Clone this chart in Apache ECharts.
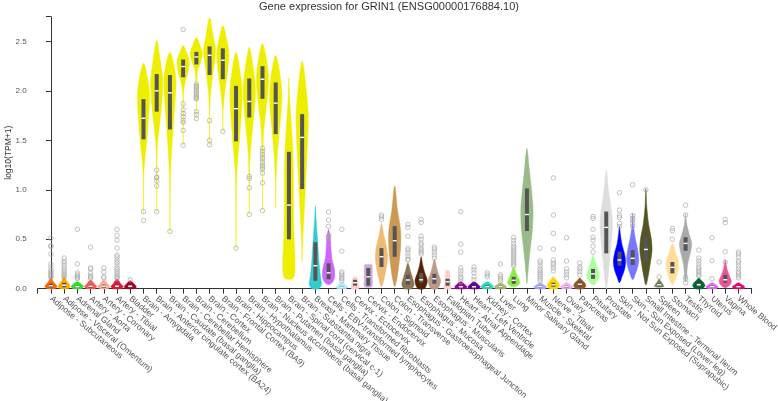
<!DOCTYPE html>
<html><head><meta charset="utf-8">
<script src="https://cdn.jsdelivr.net/npm/echarts@6/dist/echarts.min.js"></script>
<style>html,body{margin:0;padding:0;background:#fff}#c{width:778px;height:401px}</style>
</head><body><div id="c"></div><script>
const title = 'Gene expression for GRIN1 (ENSG00000176884.10)';
const yName = 'log10(TPM+1)';
const tissues = ['Adipose - Subcutaneous','Adipose - Visceral (Omentum)','Adrenal Gland','Artery - Aorta','Artery - Coronary','Artery - Tibial','Bladder','Brain - Amygdala','Brain - Anterior cingulate cortex (BA24)','Brain - Caudate (basal ganglia)','Brain - Cerebellar Hemisphere','Brain - Cerebellum','Brain - Cortex','Brain - Frontal Cortex (BA9)','Brain - Hippocampus','Brain - Hypothalamus','Brain - Nucleus accumbens (basal ganglia)','Brain - Putamen (basal ganglia)','Brain - Spinal cord (cervical c-1)','Brain - Substantia nigra','Breast - Mammary Tissue','Cells - EBV-transformed lymphocytes','Cells - Transformed fibroblasts','Cervix - Ectocervix','Cervix - Endocervix','Colon - Sigmoid','Colon - Transverse','Esophagus - Gastroesophageal Junction','Esophagus - Mucosa','Esophagus - Muscularis','Fallopian Tube','Heart - Atrial Appendage','Heart - Left Ventricle','Kidney - Cortex','Liver','Lung','Minor Salivary Gland','Muscle - Skeletal','Nerve - Tibial','Ovary','Pancreas','Pituitary','Prostate','Skin - Not Sun Exposed (Suprapubic)','Skin - Sun Exposed (Lower leg)','Small Intestine - Terminal Ileum','Spleen','Stomach','Testis','Thyroid','Uterus','Vagina','Whole Blood'];
const colors = ['#FF6600','#FFAA00','#33DD33','#FF5555','#FFAA99','#EE1133','#AA0022','#EEEE00','#EEEE00','#EEEE00','#EEEE00','#EEEE00','#EEEE00','#EEEE00','#EEEE00','#EEEE00','#EEEE00','#EEEE00','#EEEE00','#EEEE00','#33CCCC','#CC66FF','#AAEEFF','#FFCCCC','#CCAADD','#EEBB77','#CC9955','#8B7355','#552200','#BB9988','#FFCCCC','#990099','#660099','#22DDBB','#AABB66','#88EE44','#99BB88','#AAAAFF','#FFD700','#FFAAFF','#995522','#AAFF99','#DDDDDD','#0000FF','#7777FF','#555522','#778855','#FFDD99','#AAAAAA','#006633','#DD66EE','#EE5599','#EE0077'];
const q1 = [0.012,0.015,0.01,0.01,0.01,0.01,0.01,1.51,1.79,1.61,2.138,2.267,2.16,2.118,1.49,1.731,1.92,1.563,0.499,1.007,0.08,0.095,0.005,0.03,0.03,0.22,0.323,0.04,0.06,0.05,0.03,0.005,0.005,0.005,0.005,0.05,0.583,0.005,0.02,0.005,0.02,0.1,0.357,0.232,0.24,0.27,0.025,0.155,0.384,0.02,0.005,0.06,0.005];
const med = [0.03,0.035,0.02,0.025,0.025,0.025,0.025,1.724,2.0,1.98,2.246,2.343,2.36,2.31,1.82,1.893,2.118,1.876,0.845,1.53,0.232,0.16,0.015,0.06,0.12,0.323,0.485,0.088,0.09,0.1,0.07,0.02,0.02,0.02,0.02,0.085,0.75,0.02,0.04,0.02,0.045,0.15,0.62,0.29,0.307,0.397,0.04,0.216,0.458,0.04,0.02,0.09,0.02];
const q3 = [0.05,0.06,0.03,0.04,0.04,0.045,0.04,1.916,2.17,2.16,2.317,2.394,2.45,2.43,2.05,2.125,2.25,2.085,1.384,1.765,0.47,0.256,0.025,0.09,0.21,0.41,0.633,0.14,0.16,0.15,0.1,0.03,0.03,0.035,0.03,0.12,1.014,0.03,0.06,0.03,0.07,0.2,0.78,0.374,0.39,0.525,0.055,0.27,0.52,0.06,0.03,0.14,0.03];
// violin density profiles: [value, relative half-width]
const profiles = [
[[0,0.55],[0.02,1],[0.04,0.85],[0.07,0.4],[0.12,0]],
[[0,0.55],[0.02,1],[0.05,0.8],[0.08,0.4],[0.13,0]],
[[0,0.7],[0.02,1],[0.04,0.8],[0.07,0]],
[[0,0.6],[0.02,1],[0.05,0.6],[0.09,0]],
[[0,0.6],[0.02,1],[0.05,0.6],[0.09,0]],
[[0,0.6],[0.02,1],[0.05,0.6],[0.1,0]],
[[0,0.7],[0.02,1],[0.05,0.6],[0.08,0]],
[[0.76,0],[1.0,0.03],[1.2,0.08],[1.35,0.3],[1.5,0.55],[1.7,0.8],[1.95,1],[2.1,0.75],[2.28,0]],
[[0.78,0],[1.2,0.04],[1.45,0.12],[1.65,0.45],[1.85,0.8],[2.1,1],[2.3,0.6],[2.51,0]],
[[0.58,0],[1.0,0.05],[1.3,0.18],[1.6,0.5],[1.9,0.85],[2.1,1],[2.25,0.7],[2.39,0]],
[[1.45,0],[1.9,0.03],[2.05,0.2],[2.2,0.85],[2.3,1],[2.38,0.6],[2.46,0]],
[[1.72,0],[2.0,0.03],[2.2,0.2],[2.3,0.75],[2.38,1],[2.46,0.6],[2.54,0]],
[[1.45,0],[1.8,0.04],[2.0,0.2],[2.2,0.6],[2.4,1],[2.55,0.6],[2.74,0]],
[[1.59,0],[1.8,0.05],[2.0,0.35],[2.2,0.8],[2.38,1],[2.5,0.7],[2.66,0]],
[[0.41,0],[0.9,0.04],[1.2,0.15],[1.5,0.55],[1.8,0.9],[2.0,1],[2.2,0.65],[2.39,0]],
[[0.75,0],[1.1,0.04],[1.35,0.15],[1.6,0.5],[1.85,0.9],[2.05,1],[2.25,0.6],[2.44,0]],
[[0.79,0],[1.3,0.04],[1.6,0.2],[1.85,0.65],[2.1,1],[2.3,0.7],[2.48,0]],
[[0.82,0],[1.1,0.06],[1.35,0.25],[1.6,0.6],[1.9,1],[2.1,0.85],[2.36,0]],
[[0.1,0.6],[0.15,0.95],[0.3,1],[0.5,0.85],[0.8,0.75],[1.1,0.75],[1.4,0.65],[1.7,0.35],[1.95,0.1],[2.13,0]],
[[0.28,0],[0.5,0.1],[0.8,0.35],[1.1,0.6],[1.5,0.9],[1.75,1],[2.0,0.7],[2.3,0]],
[[0,0.55],[0.04,1],[0.1,0.9],[0.2,0.7],[0.35,0.5],[0.5,0.35],[0.7,0.12],[0.84,0]],
[[0.04,0],[0.07,0.7],[0.12,1],[0.2,0.95],[0.3,0.55],[0.4,0.4],[0.5,0.3],[0.6,0]],
[[0,0.6],[0.015,1],[0.03,0.8],[0.06,0]],
[[0,0.6],[0.05,0.55],[0.1,0.38],[0.115,0.3],[0.12,0]],
[[0.02,0.6],[0.1,0.65],[0.2,0.65],[0.24,0.62],[0.243,0]],
[[0.02,0],[0.08,0.35],[0.18,0.7],[0.3,1],[0.42,0.85],[0.55,0.35],[0.66,0]],
[[0.02,0],[0.1,0.35],[0.25,0.7],[0.45,1],[0.6,0.95],[0.8,0.45],[1.04,0]],
[[0,0.6],[0.04,1],[0.1,0.8],[0.18,0.4],[0.26,0]],
[[0,0.5],[0.04,0.9],[0.09,1],[0.16,0.6],[0.24,0.25],[0.32,0]],
[[0,0.5],[0.04,0.9],[0.09,1],[0.16,0.6],[0.23,0.3],[0.3,0]],
[[0,0.55],[0.05,0.5],[0.15,0.35],[0.18,0.28],[0.183,0]],
[[0,0.8],[0.02,1],[0.04,0.7],[0.07,0]],
[[0,0.8],[0.02,1],[0.04,0.7],[0.07,0]],
[[0,0.7],[0.02,1],[0.045,0.7],[0.07,0]],
[[0,0.75],[0.02,1],[0.04,0.6],[0.06,0]],
[[0.02,0],[0.03,0.6],[0.06,1],[0.1,0.8],[0.15,0.45],[0.22,0]],
[[0.05,0],[0.15,0.15],[0.35,0.45],[0.6,0.9],[0.8,1],[1.0,0.75],[1.2,0.4],[1.42,0]],
[[0,0.8],[0.02,1],[0.04,0.6],[0.06,0]],
[[0,0.6],[0.03,1],[0.06,0.85],[0.09,0.4],[0.12,0]],
[[0,0.7],[0.02,1],[0.04,0.6],[0.065,0]],
[[0,0.6],[0.03,1],[0.06,0.8],[0.09,0.3],[0.11,0]],
[[0.035,0],[0.07,0.6],[0.13,1],[0.2,0.75],[0.27,0.35],[0.34,0]],
[[0,0],[0.1,0.25],[0.3,0.55],[0.55,0.95],[0.7,1],[0.85,0.7],[1.0,0.35],[1.2,0]],
[[0.06,0],[0.12,0.4],[0.2,0.85],[0.28,1],[0.36,0.8],[0.45,0.4],[0.55,0.15],[0.63,0]],
[[0.09,0],[0.15,0.45],[0.23,0.85],[0.3,1],[0.4,0.8],[0.5,0.45],[0.62,0.15],[0.76,0]],
[[0.037,0],[0.12,0.35],[0.25,0.7],[0.38,1],[0.5,0.9],[0.65,0.45],[0.82,0.15],[1.01,0]],
[[0.02,0.75],[0.05,0.55],[0.08,0.2],[0.1,0]],
[[0.037,0],[0.1,0.5],[0.2,0.95],[0.28,1],[0.35,0.6],[0.46,0]],
[[0.07,0],[0.12,0.15],[0.25,0.35],[0.38,0.85],[0.46,1],[0.55,0.6],[0.65,0.2],[0.76,0]],
[[0,0.6],[0.03,1],[0.06,0.8],[0.09,0.3],[0.11,0]],
[[0,0.7],[0.02,1],[0.04,0.6],[0.06,0]],
[[0.01,0],[0.04,0.8],[0.08,1],[0.14,0.6],[0.21,0.25],[0.29,0]],
[[0,0.75],[0.02,1],[0.04,0.6],[0.06,0]]
];
const outliers = [
[0.51,0.435,0.425,0.35,0.25,0.22,0.19,0.17,0.155,0.14,0.125,0.11],
[0.31,0.28,0.26,0.235,0.21,0.185,0.165,0.15,0.13,0.115],
[0.6,0.25,0.16,0.14,0.125,0.11,0.1],
[0.42,0.21,0.2,0.16,0.13,0.12,0.105],
[0.21,0.17,0.12,0.11],
[0.6,0.54,0.49,0.41,0.34,0.32,0.29,0.265,0.24,0.21,0.19,0.17,0.15,0.13,0.115,0.1],
[0.09],
[0.78,0.69],
[1.2,1.13,1.12,1.09,1.04,0.78],
[0.58],
[2.62,1.87,1.81,1.77,1.74,1.7,1.68,1.6,1.45],
[2.07,2.05,2.04,2.02,2.0,1.98,1.96,1.94,1.93,1.92,1.79,1.76,1.72],
[1.7,1.5,1.455],
[1.59],
[0.41],
[1.135,1.115,1.02,0.75],
[1.42,1.39,1.36,1.33,1.31,1.28,1.25,1.23,1.21,1.17,1.07,0.79],
[],[],[],[],
[0.775,0.694,0.63,0.54,0.53,0.51],
[0.6,0.38,0.17,0.15,0.13,0.11,0.1,0.08],
[],[],
[0.745,0.725,0.7],
[],
[0.65,0.62,0.53,0.41,0.39,0.36,0.33,0.3,0.29],
[0.7,0.67,0.53,0.5,0.46,0.44,0.41,0.39,0.37,0.35],
[0.42,0.4,0.37,0.34,0.31],
[],
[0.78,0.45,0.37,0.21,0.18,0.15,0.12,0.1,0.07],
[0.22,0.19,0.16,0.12,0.09],
[0.16,0.14,0.12],
[0.25,0.14,0.12,0.1,0.08],
[0.52,0.49,0.46,0.43,0.41,0.39,0.37,0.35,0.33,0.31,0.29,0.27,0.25,0.23],
[],
[0.41,0.28,0.26,0.23,0.2,0.18,0.16,0.14,0.12,0.1,0.08],
[1.12,0.745,0.56,0.4,0.29,0.26,0.24,0.21,0.18],
[0.515,0.28,0.2,0.17,0.14,0.11],
[0.26,0.22,0.2,0.17,0.14],
[0.73,0.71,0.6,0.52,0.49,0.43,0.37],
[],
[0.97,0.795,0.74,0.72,0.66,0.63],
[1.05,0.74,0.71,0.69,0.66,0.63],
[1.0],
[0.27,0.12],
[0.61,0.586,0.5],
[0.845,0.745,0.12,0.1,0.06],
[0.39,0.31,0.28,0.25,0.22,0.2,0.18,0.16,0.14,0.13],
[0.515,0.283,0.1],
[0.7,0.667,0.374,0.27],
[0.37,0.35,0.32,0.28,0.26,0.23,0.2,0.17,0.15,0.13,0.11]
];
const yTicks = [0,0.5,1,1.5,2,2.5];
const yMax = 2.75;

const HW = 0.46;
function renderViolin(params, api) {
  const i = params.dataIndex;
  const prof = profiles[i];
  const pts = [];
  prof.forEach(p => pts.push(api.coord([i + p[1]*HW, p[0]])));
  for (let k = prof.length - 1; k >= 0; k--) {
    if (prof[k][1] > 0) pts.push(api.coord([i - prof[k][1]*HW, prof[k][0]]));
  }
  const c = api.coord([i, med[i]]);
  const t = api.coord([i, q3[i]]), b = api.coord([i, q1[i]]);
  return {type:'group', children:[
    {type:'polygon', shape:{points:pts, smooth:0.3}, style:{fill:colors[i], stroke:colors[i], lineWidth:0.5}},
    {type:'rect', shape:{x:c[0]-2, y:t[1], width:4, height:Math.max(b[1]-t[1],1.5)}, style:{fill:'#555'}},
    {type:'rect', shape:{x:c[0]-2, y:c[1]-0.7, width:4, height:1.4}, style:{fill:'#fff'}}
  ]};
}
const outData = [];
outliers.forEach((arr, i) => arr.forEach(v => outData.push([i, v])));

const chart = echarts.init(document.getElementById('c'), null, {renderer:'canvas'});
chart.setOption({
  animation:false,
  title:{text:title, left:'center', top:-4, textStyle:{fontSize:11, fontWeight:'normal', color:'#333', fontFamily:'Liberation Sans, Arial, sans-serif'}},
  grid:{left:37.7, right:26.3, top:16.7, bottom:112.3, outerBoundsMode:'none', containLabel:false},
  xAxis:{type:'value', min:-1, max:tissues.length, interval:1, offset:3,
    axisLine:{lineStyle:{color:'#333'}},
    axisTick:{length:5, lineStyle:{color:'#333'}},
    splitLine:{show:false},
    axisLabel:{rotate:-40, fontSize:8.5, color:'#555', margin:6, fontFamily:'Liberation Sans, Arial, sans-serif',
      formatter:v => tissues[v] || ''}},
  yAxis:{type:'value', min:0, max:yMax, offset:4,
    name:yName, nameLocation:'middle', nameGap:21, nameMoveOverlap:false,
    nameTextStyle:{fontSize:8.5, color:'#333', fontFamily:'Liberation Sans, Arial, sans-serif'},
    axisLine:{show:true, lineStyle:{color:'#333'}},
    axisTick:{show:true, length:5, lineStyle:{color:'#333'}, customValues:yTicks.concat([yMax])},
    axisLabel:{customValues:yTicks, fontSize:8, color:'#555', margin:7, fontFamily:'Liberation Sans, Arial, sans-serif', formatter:v => v.toFixed(1)},
    splitLine:{show:false}},
  series:[
    {type:'custom', renderItem:renderViolin, data:tissues.map((t,i)=>[i, med[i]]), encode:{x:0, y:1}, silent:true, clip:false},
    {type:'scatter', data:outData, symbol:'circle', symbolSize:4.5, silent:true,
      itemStyle:{color:'rgba(255,255,255,0)', borderColor:'#aaa', borderWidth:0.9}, z:3}
  ]
});
</script></body></html>
